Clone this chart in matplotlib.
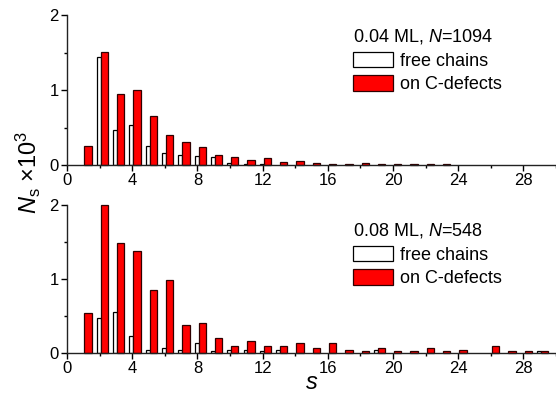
import numpy as np
import matplotlib
matplotlib.use("Agg")
import matplotlib.pyplot as plt

plt.rcParams['font.family'] = ['Liberation Sans', 'DejaVu Sans']
plt.rcParams['mathtext.fontset'] = 'custom'
plt.rcParams['mathtext.rm'] = 'Liberation Sans'
plt.rcParams['mathtext.it'] = 'Liberation Sans:italic'

# chain length s
s = np.arange(1, 30)

# 0.04 ML, N=1094  (values in units of 10^3)
free_04 = [0, 1.44, 0.47, 0.54, 0.26, 0.16, 0.13, 0.12, 0.107, 0.027,
           0.018, 0.018, 0, 0, 0, 0, 0, 0, 0, 0,
           0, 0, 0, 0, 0, 0, 0, 0, 0]
cdef_04 = [0.25, 1.51, 0.95, 1.0, 0.66, 0.405, 0.31, 0.24, 0.14, 0.107,
           0.067, 0.098, 0.045, 0.058, 0.03, 0.01, 0.01, 0.02, 0.01, 0.01,
           0.01, 0.01, 0.01, 0, 0, 0, 0, 0, 0]

# 0.08 ML, N=548
free_08 = [0, 0.47, 0.55, 0.225, 0.045, 0.067, 0.045, 0.135, 0.03, 0.045,
           0.045, 0.03, 0.045, 0, 0, 0, 0, 0, 0.045, 0,
           0, 0, 0, 0, 0, 0, 0, 0, 0.022]
cdef_08 = [0.535, 2.0, 1.49, 1.375, 0.85, 0.98, 0.377, 0.40, 0.20, 0.09,
           0.157, 0.09, 0.09, 0.135, 0.067, 0.135, 0.045, 0.022, 0.067, 0.022,
           0.022, 0.067, 0.022, 0.045, 0, 0.09, 0.022, 0.022, 0.022]

panels = [("0.04 ML, $N$=1094", free_04, cdef_04, 0.92),
          ("0.08 ML, $N$=548", free_08, cdef_08, 0.89)]


def draw_panel(ax, title, free, cdef, ytop):
    free = np.array(free)
    cdef = np.array(cdef)
    mf = free > 0
    mc = cdef > 0
    ax.bar(s[mf] - 0.17, free[mf], width=0.24, align="edge",
           facecolor="white", edgecolor="black", linewidth=0.9,
           label="free chains")
    ax.bar(s[mc] + 0.07, cdef[mc], width=0.45, align="edge",
           facecolor="#ff0000", edgecolor="#300000", linewidth=0.9,
           label="on C-defects", clip_on=False)
    ax.set_xlim(0, 30)
    ax.set_ylim(0, 2)
    ax.set_xticks(np.arange(0, 30, 4))
    ax.set_xticks(np.arange(2, 31, 4), minor=True)
    ax.set_yticks([0, 1, 2])
    ax.set_yticks([0.5, 1.5], minor=True)
    ax.spines["top"].set_visible(False)
    ax.spines["right"].set_visible(False)
    for sp in ["left", "bottom"]:
        ax.spines[sp].set_linewidth(1.0)
        ax.spines[sp].set_color("#222222")
    ax.tick_params(which="major", direction="out", length=4, width=1,
                   labelsize=12, pad=2)
    ax.tick_params(which="minor", direction="out", length=2.5, width=1)
    leg = ax.legend(title=title, loc="upper left",
                    bbox_to_anchor=(0.585, ytop), frameon=False,
                    fontsize=13, title_fontsize=13, handlelength=2.2,
                    handleheight=0.95, handletextpad=0.4, labelspacing=0.3,
                    borderpad=0, borderaxespad=0)
    leg._legend_box.align = "left"


fig = plt.figure(figsize=(5.56, 4.05), dpi=100)
ax1 = fig.add_axes([0.1205, 0.5926, 0.8795, 0.370])
ax2 = fig.add_axes([0.1205, 0.1284, 0.8795, 0.3654])

for ax, (title, free, cdef, ytop) in zip([ax1, ax2], panels):
    draw_panel(ax, title, free, cdef, ytop)

fig.text(0.052, 0.575, r"$N_{\mathrm{s}}$ ×10$^{3}$", rotation=90,
         fontsize=17, ha="center", va="center")
fig.text(0.56, 0.055, "$s$", fontsize=17, ha="center", va="center")

fig.savefig("out.png", dpi=100)
